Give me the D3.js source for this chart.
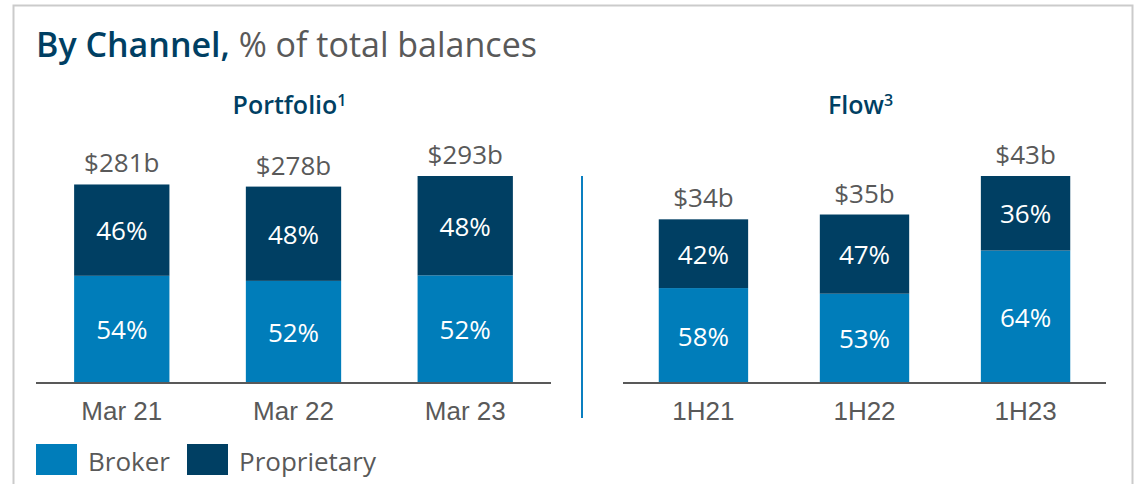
<!DOCTYPE html>
<html>
<head>
<meta charset="utf-8">
<title>By Channel</title>
<script src="https://cdn.jsdelivr.net/npm/d3@7"></script>
<style>
  body { margin: 0; background: #fff; }
  svg { display: block; font-family: "Open Sans", sans-serif; }
  .title-b { font-weight: 600; fill: #003f63; }
  .title-r { fill: #595959; }
  .head { font-weight: 600; fill: #003f63; font-size: 25px; }
  .total { fill: #595959; font-size: 26px; }
  .pct { fill: #fff; font-size: 26px; }
  .cat { fill: #595959; font-size: 26px; }
  .leg { fill: #595959; font-size: 26px; }
</style>
</head>
<body>
<svg id="chart" width="1139" height="484"></svg>
<script>
// data
var seriesNames   = ["Broker", "Proprietary"];
var seriesColors  = ["#007dba", "#003f63"];

var portCats      = ["Mar 21", "Mar 22", "Mar 23"];
var portTotals    = [281, 278, 293];
var portBroker    = [54, 52, 52];
var portProp      = [46, 48, 48];

var flowCats      = ["1H21", "1H22", "1H23"];
var flowTotals    = [34, 35, 43];
var flowBroker    = [58, 53, 64];
var flowProp      = [42, 47, 36];

var svg = d3.select("#chart");

// frame
svg.append("rect")
   .attr("x", 13.5).attr("y", 5.5)
   .attr("width", 1119).attr("height", 520)
   .attr("fill", "none").attr("stroke", "#cbcbcb").attr("stroke-width", 2);

// title
var title = svg.append("text").attr("x", 36).attr("y", 57).style("font-size", "34px");
title.append("tspan").attr("class", "title-b").text("By Channel,");
title.append("tspan").attr("class", "title-r").text(" % of total balances");

var baseY = 383, topY = 176;

function panel(cats, totals, broker, prop, x0, x1, head, sup) {
  var x = d3.scaleBand().domain(cats).range([x0, x1])
            .paddingInner(0.445).paddingOuter(0.222);
  var y = d3.scaleLinear().domain([0, d3.max(totals)]).range([baseY, topY]);

  var rows = cats.map(function(c, i) {
    var t = totals[i];
    return { cat: c, total: t, b: broker[i], p: prop[i],
             split: t * broker[i] / 100 };
  });

  var g = svg.append("g");

  // broker segment
  g.selectAll("rect.broker").data(rows).enter().append("rect")
   .attr("class", "broker")
   .attr("x", function(d) { return x(d.cat); })
   .attr("width", x.bandwidth())
   .attr("y", function(d) { return y(d.split); })
   .attr("height", function(d) { return y(0) - y(d.split); })
   .attr("fill", seriesColors[0]);

  // proprietary segment
  g.selectAll("rect.prop").data(rows).enter().append("rect")
   .attr("class", "prop")
   .attr("x", function(d) { return x(d.cat); })
   .attr("width", x.bandwidth())
   .attr("y", function(d) { return y(d.total); })
   .attr("height", function(d) { return y(d.split) - y(d.total); })
   .attr("fill", seriesColors[1]);

  var cx = function(d) { return x(d.cat) + x.bandwidth() / 2; };

  g.selectAll("text.pb").data(rows).enter().append("text")
   .attr("class", "pct").attr("text-anchor", "middle")
   .attr("x", cx)
   .attr("y", function(d) { return (y(0) + y(d.split)) / 2 + 10; })
   .text(function(d) { return d.b + "%"; });

  g.selectAll("text.pp").data(rows).enter().append("text")
   .attr("class", "pct").attr("text-anchor", "middle")
   .attr("x", cx)
   .attr("y", function(d) { return (y(d.split) + y(d.total)) / 2 + 10; })
   .text(function(d) { return d.p + "%"; });

  g.selectAll("text.total").data(rows).enter().append("text")
   .attr("class", "total").attr("text-anchor", "middle")
   .attr("x", cx)
   .attr("y", function(d) { return y(d.total) - 12; })
   .text(function(d) { return "$" + d.total + "b"; });

  // axis
  var axis = g.append("g").attr("transform", "translate(0," + baseY + ")")
              .call(d3.axisBottom(x).tickSize(0).tickPadding(19));
  axis.select(".domain").attr("stroke", "#595959").attr("stroke-width", 2)
      .attr("d", "M" + x0 + ",0H" + x1);
  axis.selectAll(".tick text").attr("class", "cat")
      .attr("font-family", null).attr("font-size", null).attr("fill", null);

  // panel heading
  var midCat = cats[1];
  var h = svg.append("text").attr("class", "head").attr("text-anchor", "middle")
             .attr("x", x(midCat) + x.bandwidth() / 2 - 4).attr("y", 114);
  h.append("tspan").text(head);
  h.append("tspan").attr("dy", -8).style("font-size", "16px").text(sup);
}

panel(portCats, portTotals, portBroker, portProp, 36, 551, "Portfolio", "1");
panel(flowCats, flowTotals, flowBroker, flowProp, 623, 1106, "Flow", "3");

// divider
svg.append("line")
   .attr("x1", 582).attr("x2", 582).attr("y1", topY).attr("y2", 418)
   .attr("stroke", "#0a7fc0").attr("stroke-width", 2);

// legend
var legX = [36, 187];
var leg = svg.selectAll("g.legend").data(seriesNames).enter().append("g")
             .attr("class", "legend")
             .attr("transform", function(d, i) { return "translate(" + legX[i] + ",444)"; });
leg.append("rect").attr("width", 41).attr("height", 31)
   .attr("fill", function(d, i) { return seriesColors[i]; });
leg.append("text").attr("class", "leg").attr("x", 52).attr("y", 27)
   .text(function(d) { return d; });
</script>
</body>
</html>
